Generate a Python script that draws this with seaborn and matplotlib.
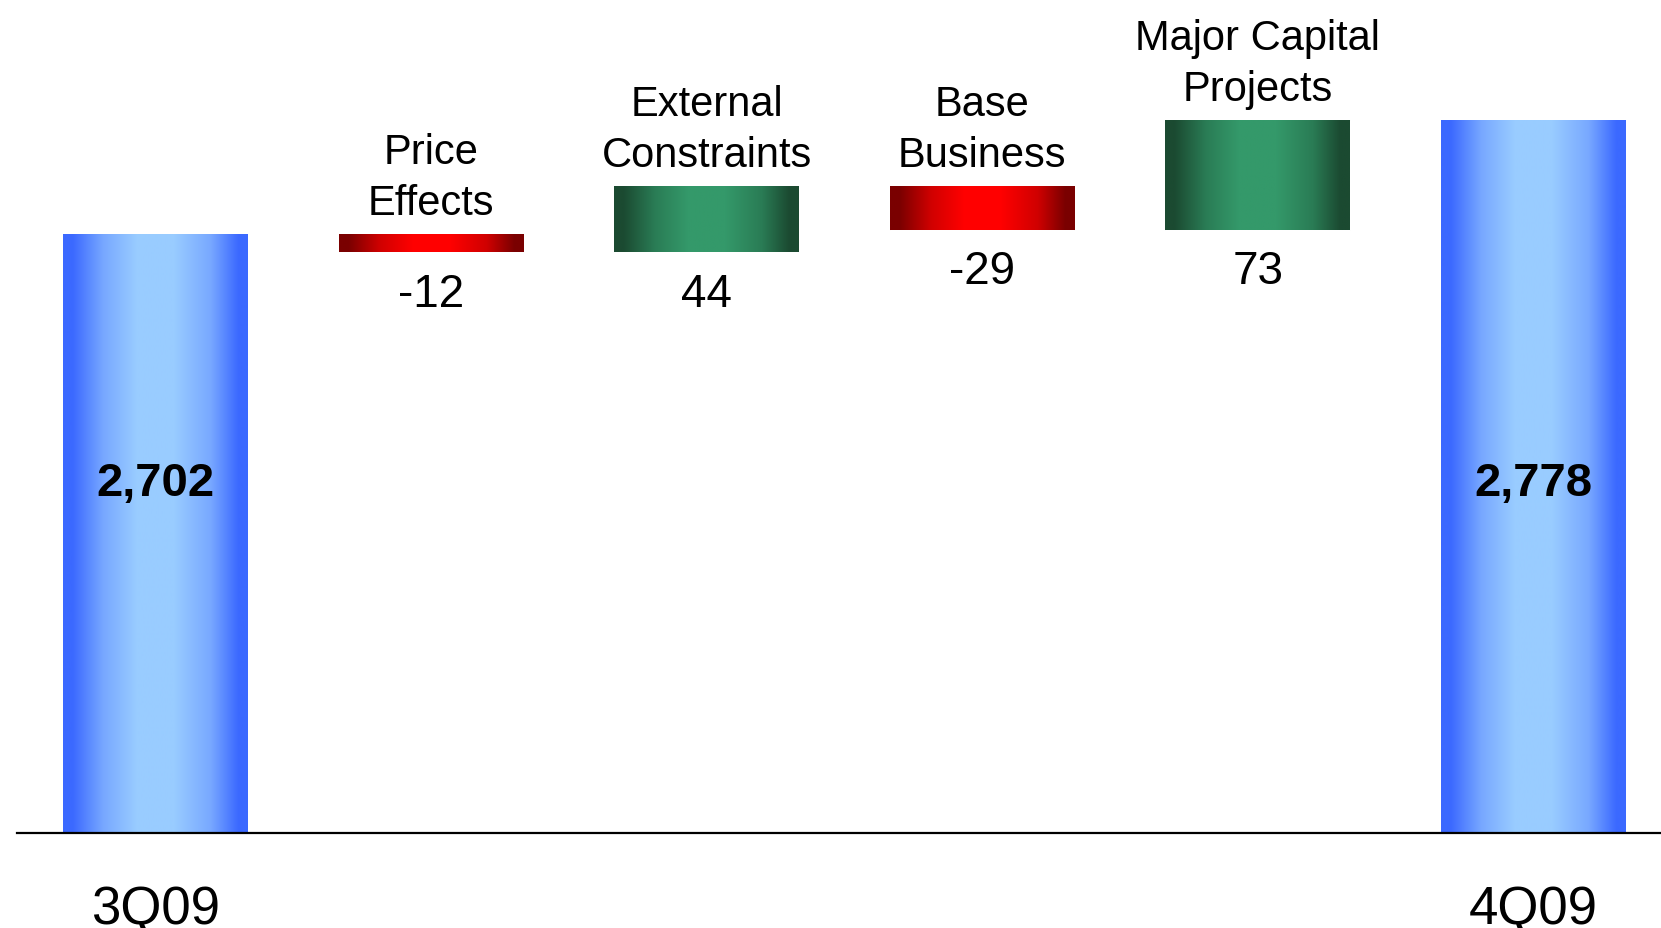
import numpy as np
import pandas as pd
import seaborn as sns
import matplotlib
matplotlib.use("Agg")
import matplotlib.pyplot as plt
from matplotlib.colors import LinearSegmentedColormap
from matplotlib.transforms import blended_transform_factory

# ---- data -------------------------------------------------------------
categories = ["3Q09", "Price Effects", "External Constraints",
              "Base Business", "Major Capital Projects", "4Q09"]
header_labels = ["", "Price\nEffects", "External\nConstraints",
                 "Base\nBusiness", "Major Capital\nProjects", ""]
tick_labels = ["3Q09", "", "", "", "", "4Q09"]
start_total = 2702
changes = [-12, 44, -29, 73]
end_total = 2778
axis_floor = 2303          # value where the baseline sits (broken axis)
axis_ceiling = 2859

# ---- waterfall geometry from the values ------------------------------
running = start_total + np.cumsum(changes)
lows, highs = [0], [start_total]
prev = start_total
for cur in running:
    lows.append(min(prev, cur))
    highs.append(max(prev, cur))
    prev = cur
lows.append(0)
highs.append(end_total)

kinds = ["total"] + ["up" if c > 0 else "down" for c in changes] + ["total"]
df = pd.DataFrame({"category": categories, "high": highs, "low": lows, "kind": kinds})

# ---- styling ----------------------------------------------------------
sns.set_theme(style="white")
plt.rcParams["font.family"] = ["Liberation Sans", "DejaVu Sans"]

stops = [0.0, 0.05, 0.22, 0.40, 0.60, 0.80, 0.95, 1.0]

def shade(dark, mid, light):
    cols = [dark, dark, mid, light, light, mid, dark, dark]
    return LinearSegmentedColormap.from_list("g", list(zip(stops, cols)))

gradients = {
    "total": shade("#3b69ff", "#78a8ff", "#99ccff"),
    "up": shade("#1b4a31", "#2a7c55", "#34996a"),
    "down": shade("#7a0000", "#d00000", "#ff0000"),
}
base_colors = {"total": "#7aaaff", "up": "#2a7c55", "down": "#d00000"}

fig = plt.figure(figsize=(16.61, 9.29), dpi=100)
W, H = 1661, 929
left_px, base_px = 17, 833.7
ax = fig.add_axes([left_px / W, (H - base_px) / H, 1 - left_px / W, base_px / H])

sns.barplot(data=df, x="category", y="high", hue="kind",
            palette=base_colors, dodge=False, width=0.67,
            legend=False, ax=ax, saturation=1)

# turn each bar into a floating bar and paint a horizontal gradient on it
ramp = np.linspace(0, 1, 256).reshape(1, -1)
for patch in ax.patches:
    if patch.get_width() == 0:
        continue
    xc = patch.get_x() + patch.get_width() / 2
    i = int(round(xc))
    lo, hi, kind = df.loc[i, "low"], df.loc[i, "high"], df.loc[i, "kind"]
    patch.set_y(lo)
    patch.set_height(hi - lo)
    x0, x1 = patch.get_x(), patch.get_x() + patch.get_width()
    ax.imshow(ramp, cmap=gradients[kind], aspect="auto",
              extent=(x0, x1, max(lo, axis_floor), hi),
              interpolation="bilinear", zorder=3)

ax.set_xlim(-0.503, 5.464)
ax.set_ylim(axis_floor, axis_ceiling)

# headers above and change values below each floating bar
for i in range(1, 5):
    ax.annotate(header_labels[i], xy=(i, df.loc[i, "high"]), xytext=(0, 8),
                textcoords="offset points", ha="center", va="bottom",
                fontsize=30, color="black", linespacing=1.36)
    ax.annotate(f"{changes[i - 1]:d}", xy=(i, df.loc[i, "low"]), xytext=(0, -14),
                textcoords="offset points", ha="center", va="top",
                fontsize=33, color="black")

# totals inside the end bars
trans = blended_transform_factory(ax.transData, ax.transAxes)
for i, v in [(0, start_total), (5, end_total)]:
    ax.text(i, 0.420, f"{v:,}", transform=trans, ha="center", va="center",
            fontsize=34, fontweight="bold", color="black", zorder=5)

ax.set_xticks(range(len(categories)))
ax.set_xticklabels(tick_labels)
ax.tick_params(axis="x", length=0, pad=37, labelsize=38, colors="black")
ax.set_yticks([])
ax.set_xlabel("")
ax.set_ylabel("")
for side in ["top", "left", "right"]:
    ax.spines[side].set_visible(False)
ax.spines["bottom"].set_color("black")
ax.spines["bottom"].set_linewidth(1.6)
ax.spines["bottom"].set_zorder(6)

fig.savefig("out.png", dpi=100, facecolor="white")
